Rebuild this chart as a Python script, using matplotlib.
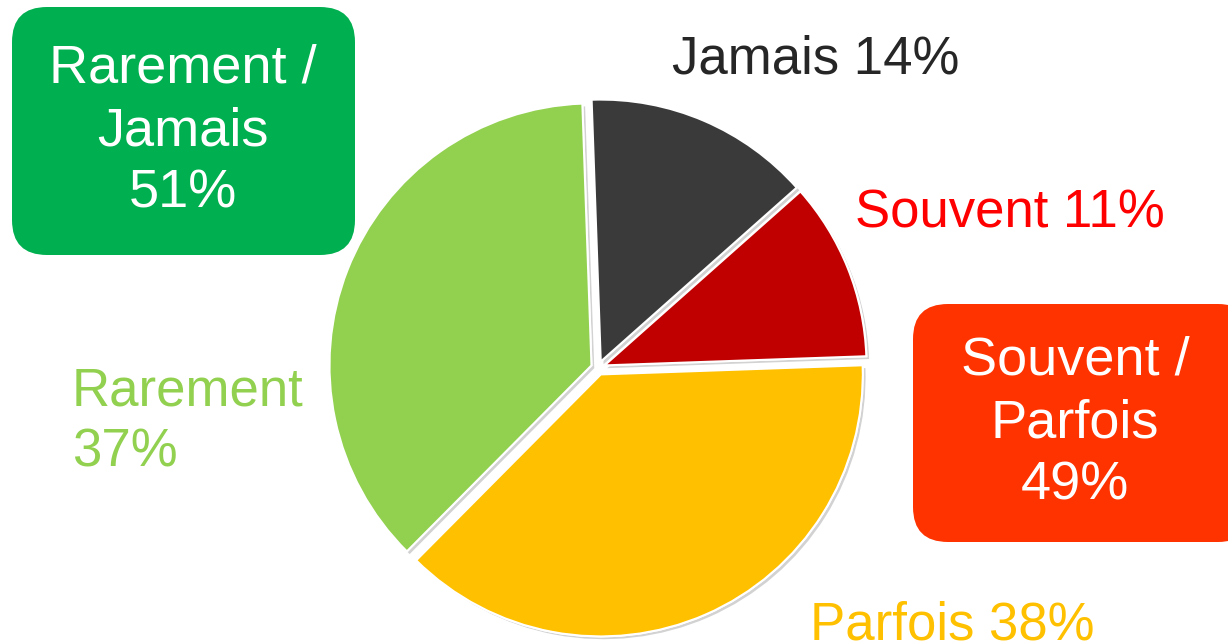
import matplotlib.pyplot as plt
from matplotlib.patches import FancyBboxPatch
import matplotlib.patheffects as pe

plt.rcParams['font.family'] = ['Liberation Sans', 'DejaVu Sans']

categories = ["Jamais", "Souvent", "Parfois", "Rarement"]
values = [14, 11, 38, 37]
colors = ["#3a3a3a", "#c00000", "#ffc000", "#92d050"]
label_colors = ["#262626", "#ff0000", "#ffc000", "#92d050"]
groups = ["Rarement /\nJamais\n51%", "Souvent /\nParfois\n49%"]

W, H = 1228, 641
fig = plt.figure(figsize=(W / 100, H / 100), dpi=100)
ax = fig.add_axes([0, 0, 1, 1])

# explode is in data units here (pixels), not a fraction of the radius
wedges, _ = ax.pie(values, colors=colors, startangle=92, counterclock=False,
                   center=(598, H - 368), radius=262, explode=[7] * 4,
                   wedgeprops=dict(edgecolor='white', linewidth=1.5))
for w in wedges:
    w.set_path_effects([pe.withSimplePatchShadow(offset=(2, -2), shadow_rgbFace='gray', alpha=0.35),
                        pe.Normal()])

# pie() changes the limits, so put them back to pixel units
ax.set_xlim(0, W)
ax.set_ylim(0, H)
ax.set_aspect('equal')
ax.axis('off')

fs = 38
# slice labels
ax.text(816, H - 60, f"{categories[0]} {values[0]}%", color=label_colors[0],
        fontsize=fs, ha='center', va='center')
ax.text(1010, H - 213, f"{categories[1]} {values[1]}%", color=label_colors[1],
        fontsize=fs, ha='center', va='center')
ax.text(952, H - 625, f"{categories[2]} {values[2]}%", color=label_colors[2],
        fontsize=fs, ha='center', va='center')
ax.text(72, H - 422, f"{categories[3]}\n{values[3]}%", color=label_colors[3],
        fontsize=fs, ha='left', va='center', linespacing=1.27)

# group boxes
ax.add_patch(FancyBboxPatch((12, H - 255), 343, 248, boxstyle="round,pad=0,rounding_size=35",
                            facecolor="#00b050", edgecolor='none'))
ax.text(183, H - 131, groups[0], color='white', fontsize=39, ha='center', va='center',
        linespacing=1.32)
ax.add_patch(FancyBboxPatch((913, H - 542), 340, 238, boxstyle="round,pad=0,rounding_size=35",
                            facecolor="#ff3300", edgecolor='none'))
ax.text(1075, H - 423, groups[1], color='white', fontsize=39, ha='center', va='center',
        linespacing=1.32)

fig.savefig("out.png", dpi=100)
